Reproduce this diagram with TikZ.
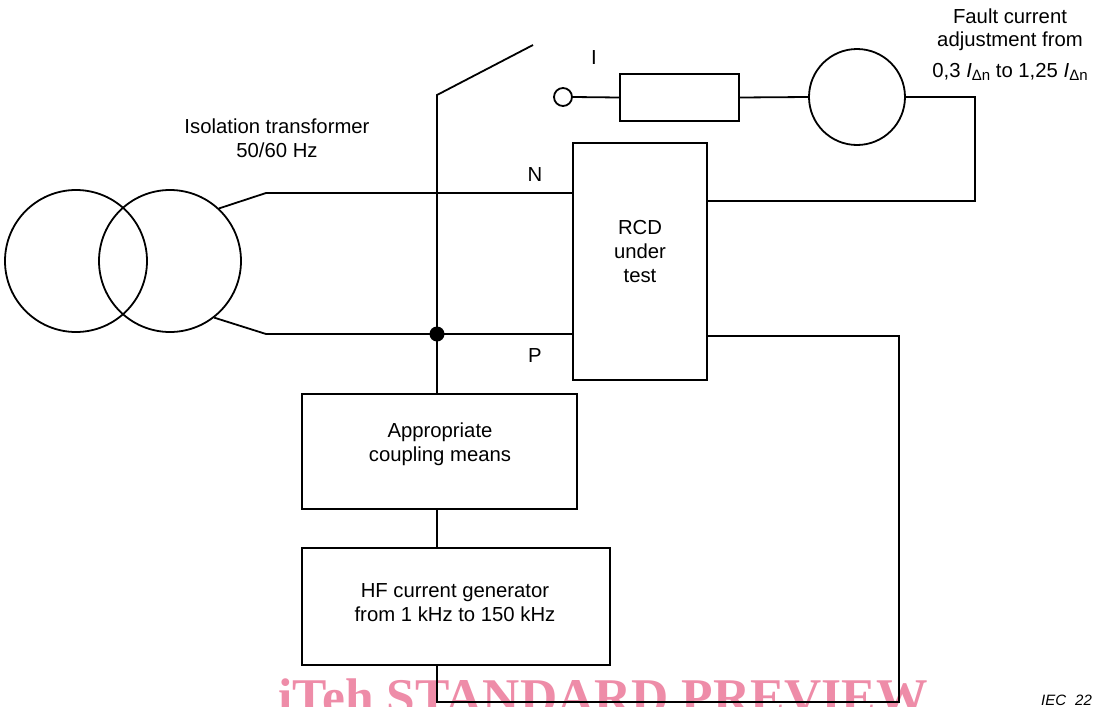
\documentclass[tikz,border=0pt]{standalone}
\usepackage{fontspec}
\setmainfont{Liberation Sans}
\newfontfamily\wmfont{Liberation Serif}
\definecolor{wmpink}{RGB}{238,140,168}
\begin{document}
\begin{tikzpicture}[x=1pt,y=-1pt,
  wire/.style={line width=1.8pt},
  box/.style={draw, line width=1.8pt, inner sep=0pt},
  ring/.style={draw, circle, line width=1.8pt, inner sep=0pt},
  lbl/.style={font=\fontsize{20.3}{24}\selectfont, align=center, inner sep=0pt}]
\useasboundingbox (0,0) rectangle (1096,707);
\clip (0,0) rectangle (1096,707);

% watermark (behind the drawing)
\node[anchor=base west, inner sep=0pt, text=wmpink, font=\wmfont\bfseries\fontsize{51.5}{50}\selectfont] (wm) at (278,714) {iTeh STANDARD PREVIEW};

% transformer
\node[ring, minimum size=142pt] (tr1) at (76,261) {};
\node[ring, minimum size=142pt] (tr2) at (170,261) {};
\node[lbl] (trl) at (277,138) {Isolation transformer\\50/60 Hz};

% boxes
\node[box, minimum width=134pt, minimum height=237pt] (rcd) at (640,261.5) {};
\node[lbl] (rcdt) at (640,252) {RCD\\under\\test};
\node[box, minimum width=275pt, minimum height=115pt] (coup) at (439.5,451.5) {};
\node[lbl] (coupt) at (440,444.5) {Appropriate\\coupling means};
\node[box, minimum width=308pt, minimum height=117pt] (hf) at (456,606.5) {};
\node[lbl] (hft) at (455,603) {HF current generator\\from 1 kHz to 150 kHz};
\node[box, minimum width=119pt, minimum height=47pt] (res) at (679.5,97.5) {};
\node[ring, minimum size=96pt] (gen) at (857,97) {};
\node[ring, minimum size=18pt] (sc) at (563,97) {};

% labels
\node[lbl] (li) at (594,58) {I};
\node[lbl] (ln) at (535,175) {N};
\node[lbl] (lp) at (535,356) {P};
\node[lbl] (f1) at (1010,16) {Fault current};
\node[lbl] (f2) at (1010,41) {adjustment from};
\node[lbl] (f3) at (1010,72) {0,3 \textit{I}\raisebox{-0.35ex}{\fontsize{15}{15}\selectfont Δn} to 1,25 \textit{I}\raisebox{-0.35ex}{\fontsize{15}{15}\selectfont Δn}};

% coordinates
\coordinate (nk) at (266,193);
\coordinate (pk) at (266,334);
\coordinate (jn) at (437,334);
\coordinate (swb) at (437,95);
\coordinate (swt) at (533,45);
\coordinate (fr1) at (975,97);
\coordinate (fr2) at (975,201);
\coordinate (br1) at (899,336);
\coordinate (br2) at (899,702);
\coordinate (br3) at (437,702);

% wires
\draw[wire] (tr2.47) -- (nk) -- (rcd.west |- nk);
\draw[wire] (tr2.-52) -- (pk) -- (rcd.west |- pk);
\draw[wire] (swt) -- (swb) -- (swb |- coup.north);
\fill (jn) circle (7.5pt);
\draw[wire] (sc.east) -- (res.west);
\draw[wire] (res.east) -- (gen.west);
\draw[wire] (gen.east) -- (fr1) -- (fr2) -- (rcd.east |- fr2);
\draw[wire] (rcd.east |- br1) -- (br1) -- (br2) -- (br3) -- (br3 |- hf.south);
\draw[wire] (swb |- coup.south) -- (swb |- hf.north);

% reference mark
\node[anchor=base west, inner sep=0pt, font=\itshape\fontsize{15}{16}\selectfont] (iec) at (1041,705.5) {IEC\hspace{9pt}22};
\end{tikzpicture}
\end{document}
